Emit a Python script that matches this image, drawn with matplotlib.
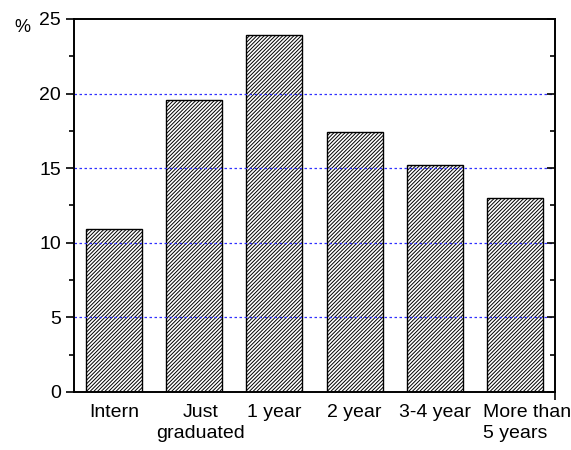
import matplotlib
matplotlib.use("Agg")
import matplotlib.pyplot as plt
import matplotlib.transforms as mtransforms
import numpy as np
from matplotlib.ticker import MultipleLocator

plt.rcParams["font.family"] = ["Liberation Sans", "DejaVu Sans"]
plt.rcParams["hatch.linewidth"] = 0.7

categories = ["Intern", "Just\ngraduated", "1 year", "2 year", "3-4 year", "More than\n5 years"]
values = [10.9, 19.6, 23.9, 17.4, 15.2, 13.0]

fig = plt.figure(figsize=(5.71, 4.5), dpi=100)
ax = fig.add_axes([0.1296, 0.1289, 0.9720 - 0.1296, 0.9578 - 0.1289])

x = np.arange(len(categories))
ax.bar(x, values, width=0.7, color="white", edgecolor="black", hatch="/" * 9,
       linewidth=1.0, zorder=2)

for y in [5, 10, 15, 20]:
    ax.axhline(y, color="#3030ff", linestyle=(0, (2, 2)), linewidth=0.9, zorder=3)

ax.set_xlim(-0.5, 5.5)
ax.set_ylim(0, 25)
ax.yaxis.set_major_locator(MultipleLocator(5))
ax.yaxis.set_minor_locator(MultipleLocator(2.5))
ax.set_xticks(x)
ax.set_xticklabels(categories, fontsize=14, linespacing=1.25)
ax.set_xticks([5.5], minor=True)
ax.tick_params(axis="x", which="major", length=0, pad=9)
ax.tick_params(axis="x", which="minor", direction="out", length=6, width=1.2)
ax.tick_params(axis="y", which="major", direction="out", length=6, width=1.2, labelsize=14)
ax.tick_params(axis="y", which="minor", direction="out", length=3.5, width=1.2)

# nudge the two-line labels like in the original
labels = ax.get_xticklabels()
labels[1].set_transform(labels[1].get_transform() +
                        mtransforms.ScaledTranslation(0.06, 0, fig.dpi_scale_trans))
labels[5].set_multialignment("left")
labels[5].set_transform(labels[5].get_transform() +
                        mtransforms.ScaledTranslation(0.12, 0, fig.dpi_scale_trans))

# right axis ticks pointing inward
rax = ax.twinx()
rax.set_ylim(0, 25)
rax.yaxis.set_major_locator(MultipleLocator(5))
rax.yaxis.set_minor_locator(MultipleLocator(2.5))
rax.tick_params(axis="y", which="major", direction="in", length=6, width=1.2, labelright=False)
rax.tick_params(axis="y", which="minor", direction="in", length=3.5, width=1.2)

for a in (ax, rax):
    for s in a.spines.values():
        s.set_linewidth(1.2)

fig.text(0.025, 0.94, "%", fontsize=13, ha="left", va="center")

fig.savefig("out.png", dpi=100)
